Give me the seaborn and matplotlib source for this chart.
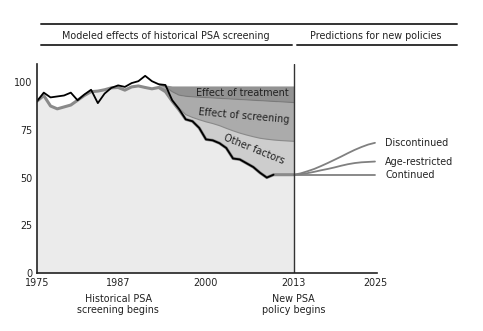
import numpy as np
import pandas as pd
import matplotlib
matplotlib.use("Agg")
import matplotlib.pyplot as plt
import seaborn as sns

# ---- data ----
obs_years = list(range(1975, 2011))
observed = [90, 94.5, 92, 92.5, 93, 94.5, 90.5, 93.5, 96, 89, 94, 97, 98.3, 97.5, 99.5,
            100.5, 103.3, 100.5, 98.9, 98.5, 90.5, 86, 80.5, 79.5, 76, 70, 69.5, 68, 65.5,
            60, 59.5, 57.5, 55.5, 52.5, 50, 51.5]

model_years = list(range(1975, 2014))
model = [90, 93, 87.5, 86, 87, 88, 90.5, 93, 95, 95.3, 96, 97, 97.2, 95.8, 97.5, 98,
         97.2, 96.5, 97.2, 95, 90, 85.5, 80.5, 79.5, 76, 70, 69.5, 68, 65.5, 60, 59.5,
         57.5, 55.5, 52.5, 50, 51.5, 51.5, 51.5, 51.5]

eff_years = list(range(1993, 2014))
no_treat_no_screen = [99.2, 98.5] + [98] * 19
no_screen = [98.8, 97.5, 95, 93.2, 92.6, 92.3, 92.1, 91.9, 91.7, 91.5, 91.3, 91.1,
             90.9, 90.7, 90.5, 90.3, 90.1, 89.9, 89.7, 89.5, 89.3]
no_other = [97.5, 96, 91, 86.5, 83, 81.5, 80.3, 79.2, 78.3, 77.2, 75.8, 74.5, 73.3,
            72.3, 71.4, 70.6, 70.1, 69.7, 69.4, 69.2, 69]

proj_years = list(range(2013, 2026))
continued = [51.5] * 13
age_restricted = [51.5, 51.8, 52.3, 53, 53.8, 54.5, 55.3, 56.2, 57, 57.6, 58, 58.2, 58.4]
discontinued = [51.5, 52.2, 53.3, 54.5, 56, 57.6, 59.3, 61, 62.8, 64.5, 66, 67.3, 68.2]
proj_labels = ["Discontinued", "Age-restricted", "Continued"]

xticks = [1975, 1987, 2000, 2013, 2025]
yticks = [0, 25, 50, 75, 100]

# ---- plot ----
sns.set_style("white")
plt.rcParams['font.family'] = ['DejaVu Sans']
fig = plt.figure(figsize=(4.83, 3.31), dpi=100)
ax = fig.add_axes([37/483, 1-273/331, (377-37)/483, (273-64)/331])

m_eff = model[model_years.index(1993):]
ax.fill_between(model_years, 0, model, color="#ebebeb", lw=0)
ax.fill_between(eff_years, m_eff, no_other, color="#cdcdcd", lw=0)
ax.fill_between(eff_years, no_other, no_screen, color="#ababab", lw=0)
ax.fill_between(eff_years, no_screen, no_treat_no_screen, color="#929292", lw=0)
sns.lineplot(x=eff_years, y=no_other, ax=ax, color="#8a8a8a", lw=0.8)
sns.lineplot(x=eff_years, y=no_screen, ax=ax, color="#7a7a7a", lw=0.8)

sns.lineplot(x=model_years, y=model, ax=ax, color="#8a8a8a", lw=2.2)
sns.lineplot(x=obs_years, y=observed, ax=ax, color="black", lw=1.3)

pcol = "#808080"
for vals in (continued, age_restricted, discontinued):
    sns.lineplot(x=proj_years, y=vals, ax=ax, color=pcol, lw=1.3)
for lab, vals in zip(proj_labels, (discontinued, age_restricted, continued)):
    ax.text(2026.5, vals[-1] - 0.3, lab, ha="left", va="center", fontsize=6.9,
            color="#222222", clip_on=False)

ax.axvline(2013, color="#333333", lw=1)

ax.text(2005.4, 94.5, "Effect of treatment", ha="center", va="center", fontsize=7, color="#222222")
ax.text(2005.6, 82.1, "Effect of screening", ha="center", va="center", fontsize=7,
        color="#222222", rotation=-5)
ax.text(2007.1, 64.7, "Other factors", ha="center", va="center", fontsize=7,
        color="#222222", rotation=-22)

ax.set_xlim(1975, 2025.3)
ax.set_ylim(0, 109.5)
ax.set_xticks(xticks)
ax.set_yticks(yticks)
ax.tick_params(labelsize=6.9, direction="inout", length=4, width=0.8, pad=1.5, colors="#222222")
for s in ("top", "right"):
    ax.spines[s].set_visible(False)
for s in ("left", "bottom"):
    ax.spines[s].set_color("#222222")
    ax.spines[s].set_linewidth(1.2)

trans = matplotlib.transforms.blended_transform_factory(ax.transData, ax.transAxes)
ax.text(1987, -0.1, "Historical PSA\nscreening begins", transform=trans, ha="center",
        va="top", fontsize=6.9, color="#222222", linespacing=1.15)
ax.text(2013, -0.1, "New PSA\npolicy begins", transform=trans, ha="center",
        va="top", fontsize=6.9, color="#222222", linespacing=1.15)

# header
lc = "#333333"
fig.add_artist(plt.Line2D([41/483, 457/483], [1-24/331]*2, color=lc, lw=1.4))
fig.add_artist(plt.Line2D([41/483, 292/483], [1-45/331]*2, color=lc, lw=1.4))
fig.add_artist(plt.Line2D([297/483, 457/483], [1-45/331]*2, color=lc, lw=1.4))
fig.text(166/483, 1-36/331, "Modeled effects of historical PSA screening", ha="center",
         va="center", fontsize=6.9, color="#222222")
fig.text(376/483, 1-36/331, "Predictions for new policies", ha="center",
         va="center", fontsize=6.9, color="#222222")

fig.savefig("out.png", dpi=100, facecolor="white")
